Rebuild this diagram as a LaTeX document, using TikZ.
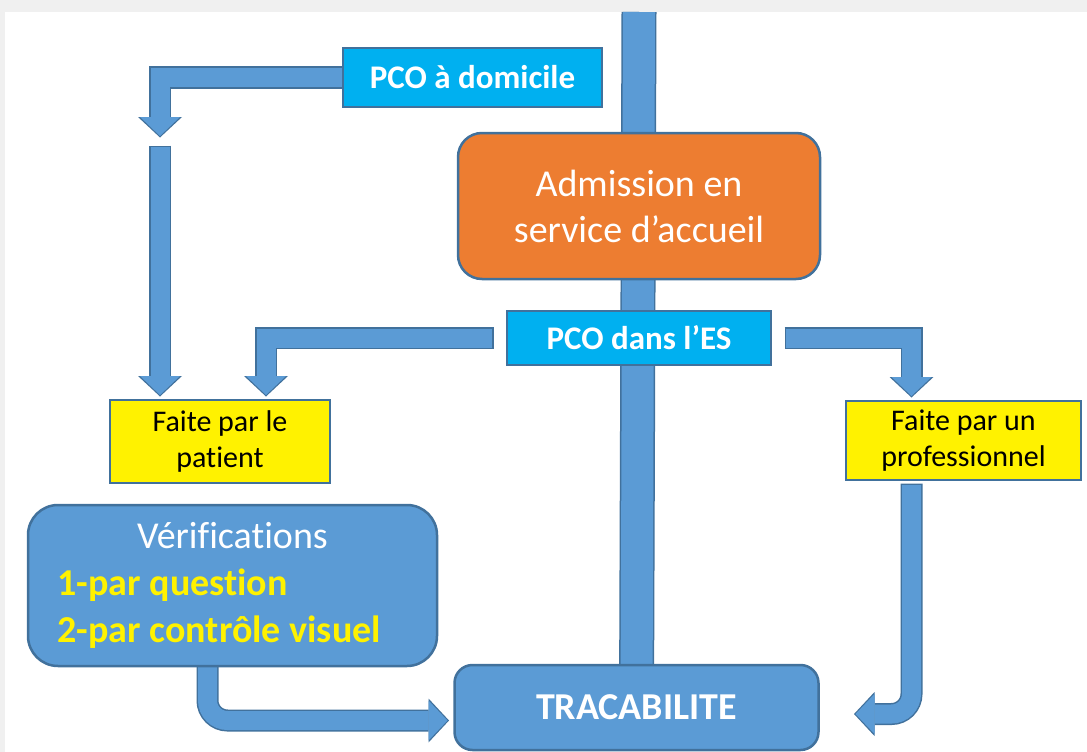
\documentclass[tikz,border=0pt]{standalone}
\usepackage{fontspec}
\setmainfont{Carlito}[Ligatures=NoCommon]
\usetikzlibrary{arrows.meta,positioning,backgrounds}
\definecolor{fillblue}{HTML}{5B9BD5}
\definecolor{edgeblue}{HTML}{41719C}
\definecolor{pcocyan}{HTML}{00B0F0}
\definecolor{admorange}{HTML}{ED7D31}
\definecolor{bandgray}{HTML}{F0F0F0}
\tikzset
{
    mainbox/.style  = {rectangle, draw=edgeblue, line width=2.5pt, text=white, align=center, inner sep=0pt},
    pcobox/.style   = {rectangle, draw=edgeblue, line width=2.5pt, fill=pcocyan, text=white, align=center, inner sep=0pt, font=\bfseries\fontsize{33}{40}\selectfont},
    whobox/.style   = {rectangle, draw=edgeblue, line width=2pt, fill=yellow, text=black, align=center, inner sep=0pt, outer sep=5pt, font=\fontsize{30}{36}\selectfont},
    blockarrow/.style = {draw=fillblue, line width=19pt, line join=miter, -{Triangle[width=40pt, length=19pt, line width=0pt]},
        preaction={draw=edgeblue, line width=22pt, shorten >=-1.5pt, shorten <=-1.5pt, -{Triangle[width=44pt, length=20.5pt, line width=0pt]}}},
    trunk/.style    = {draw=fillblue, line width=32pt, preaction={draw=edgeblue, line width=35pt}},
}

\begin{document}
\begin{tikzpicture}[x=1pt, y=-1pt]
	\useasboundingbox (0,0) rectangle (1087,752);

	\node (adm)    [mainbox, fill=admorange, rounded corners=24pt, minimum width=362pt, minimum height=146pt, font=\fontsize{38}{46}\selectfont] at (639,206) {Admission en\\service d’accueil};
	\node (pcodom) [pcobox, minimum width=259pt, minimum height=59pt] at (472.5,77.5) {PCO à domicile};
	\node (pcoes)  [pcobox, minimum width=264pt, minimum height=54pt, outer sep=15pt] at (639,338) {PCO dans l’ES};
	\node (patient) [whobox, minimum width=220pt, minimum height=83pt] at (220,441.5) {Faite par le\\patient};
	\node (pro)    [whobox, minimum width=235pt, minimum height=79pt] at (963.5,440.5) {Faite par un\\professionnel};
	\node (verif)  [mainbox, fill=fillblue, rounded corners=30pt, minimum width=409pt, minimum height=161pt, font=\fontsize{38}{47}\selectfont] at (232.5,585.5)
		{\makebox[350pt]{Vérifications}\\\makebox[350pt][l]{\bfseries\color{yellow}1-par question}\\\makebox[350pt][l]{\bfseries\color{yellow}2-par contrôle visuel}};
	\node (trac)   [mainbox, fill=fillblue, rounded corners=18pt, minimum width=364pt, minimum height=85pt, outer sep=7pt, font=\bfseries\fontsize{38}{46}\selectfont] at (636.5,707.5) {TRACABILITE};

	\coordinate (top) at (639,12);
	\coordinate (domtip) at (160,136);
	\coordinate (freetop) at (160,147);

	\begin{scope}[on background layer]
		\fill [bandgray] (0,0) rectangle (1087,12);
		\fill [bandgray] (0,0) rectangle (5,752);
		\draw [trunk] (top) -- (trac.center);
	\end{scope}

	\draw [blockarrow] (pcodom.west) -| (domtip);
	\draw [blockarrow] (freetop) -- (freetop |- patient.north);
	\draw [blockarrow] (pcoes.west) -| ([xshift=46pt]patient.north);
	\draw [blockarrow] (pcoes.east) -| ([xshift=-52pt]pro.north);
	\draw [blockarrow, rounded corners=20pt] ([xshift=-25pt]verif.south) |- ([yshift=-13pt]trac.west);
	\draw [blockarrow, rounded corners=20pt] ([xshift=-52pt]pro.south) |- ([xshift=30pt, yshift=-6.5pt]trac.east);

\end{tikzpicture}
\end{document}
